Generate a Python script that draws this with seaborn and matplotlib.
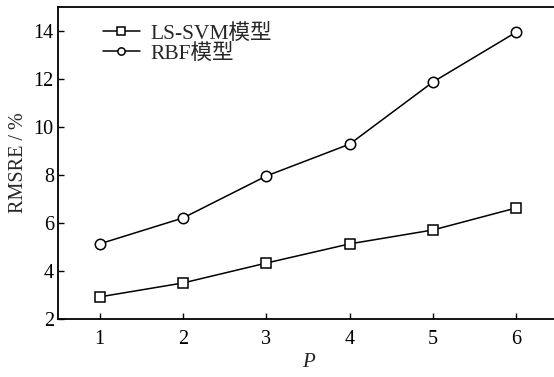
import matplotlib
matplotlib.use("Agg")
import matplotlib.pyplot as plt
import seaborn as sns
import pandas as pd

P = [1, 2, 3, 4, 5, 6]
ls_svm = [2.92, 3.50, 4.33, 5.13, 5.71, 6.63]
rbf = [5.13, 6.21, 7.96, 9.29, 11.88, 13.96]
series_names = ["LS-SVM模型", "RBF模型"]
yticks = [2, 4, 6, 8, 10, 12, 14]

sns.set_theme(style="ticks")
plt.rcParams['font.family'] = ['Liberation Serif', 'Noto Sans CJK SC']
plt.rcParams['mathtext.fontset'] = 'stix'

df = pd.DataFrame({
    "P": P * 2,
    "val": ls_svm + rbf,
    "model": [series_names[0]] * len(P) + [series_names[1]] * len(P),
})

fig = plt.figure(figsize=(5.54, 3.77), dpi=100)
ax = fig.add_axes([0.1047, 0.154, 0.9025, 0.827])
sns.lineplot(data=df, x="P", y="val", hue="model", style="model",
             markers={series_names[0]: "s", series_names[1]: "o"},
             dashes=False, palette=["black", "black"],
             markerfacecolor="white", markeredgecolor="black",
             markeredgewidth=1.1, markersize=7.5, linewidth=1.1, ax=ax)

ax.set_xlim(0.5, 6.5)
ax.set_ylim(2, 15)
ax.set_xticks(P)
ax.set_yticks(yticks)
ax.tick_params(direction="in", length=4, width=1, labelsize=14.5, colors="black")
ax.tick_params(axis="x", pad=8)
ax.tick_params(axis="y", pad=3)
ax.spines["right"].set_visible(False)
for s in ax.spines.values():
    s.set_linewidth(1.3)
    s.set_color("black")
ax.set_xlabel("P", fontsize=15, style="italic", labelpad=3)
ax.set_ylabel("RMSRE / %", fontsize=14.5, labelpad=4)

leg = ax.legend(loc="upper left", bbox_to_anchor=(0.06, 0.995), frameon=False,
                fontsize=15.5, handlelength=1.7, handletextpad=0.5,
                labelspacing=0.0, borderaxespad=0.3, markerscale=0.7)

fig.savefig("out.png", dpi=100)
